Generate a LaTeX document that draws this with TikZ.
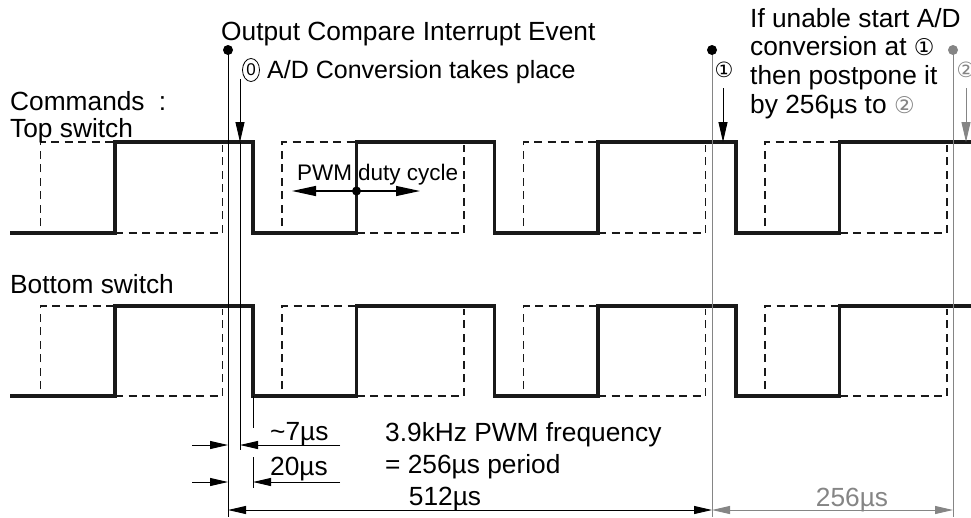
\documentclass[tikz,border=0pt]{standalone}
\usepackage{fontspec}
\setmainfont{Liberation Sans}
\newfontfamily\symfont{DejaVu Sans}
\usetikzlibrary{arrows.meta,shapes.geometric}
\definecolor{lgray}{HTML}{858585}
\begin{document}
\begin{tikzpicture}[x=1pt,y=-1pt,
  wave/.style={line width=3.2pt, line join=miter, black!90},
  cmdline/.style={line width=1.6pt, dash pattern=on 8pt off 5.5pt, black!90},
  thinline/.style={line width=0.9pt},
  lbl/.style={font=\fontsize{26.3}{28}\selectfont, inner sep=0pt},
  circ/.style={font=\symfont\fontsize{21}{22}\selectfont, inner sep=0pt},
  dimtip/.style={-{Triangle[length=18pt,width=8pt]}},
  bigtip/.style={-{Triangle[length=20pt,width=9pt]}},
  pwmtip/.style={-{Triangle[length=24pt,width=10pt]}}
]
\useasboundingbox (0,0) rectangle (971,517);

% waveforms
\foreach \hi/\lo in {142/233, 306/396}{
  \draw[wave] (10,\lo) -- (115,\lo) -- (115,\hi) -- (253,\hi) -- (253,\lo)
    -- (356.5,\lo) -- (356.5,\hi) -- (494.5,\hi) -- (494.5,\lo)
    -- (598,\lo) -- (598,\hi) -- (736,\hi) -- (736,\lo)
    -- (839.5,\lo) -- (839.5,\hi) -- (971,\hi);
  \foreach \L/\R/\U in {40.5/222.5/115, 282/464/356.5, 523.5/705.5/598, 765/947/839.5}{
    \draw[cmdline] (\L,\lo-7) -- (\L,\hi) -- (\U,\hi);
    \draw[cmdline] (\U,\lo) -- (\R,\lo) -- (\R,\hi+3);
  }
}

% left labels
\node[lbl, anchor=base west] (cmds) at (10,110) {Commands\hspace{7pt} :};
\node[lbl, anchor=base west] (tops) at (10,137) {Top switch};
\node[lbl, anchor=base west] (bots) at (10,293) {Bottom switch};

% event line 0
\coordinate (e0) at (228,50);
\coordinate (e0b) at (228,517);
\draw[thinline] (e0) -- (e0b);
\fill (e0) circle (5);
\node[lbl, anchor=base west] (oc) at (221,40) {Output Compare Interrupt Event};
\node[draw, ellipse, line width=0.8pt, minimum width=17pt, minimum height=23pt,
      inner sep=0pt, font=\fontsize{17}{17}\selectfont] (c0) at (251,70) {0};
\node[lbl, font=\fontsize{25}{28}\selectfont, anchor=base west] (adc) at (267,78) {A/D Conversion takes place};
\coordinate (a0s) at (240,79);
\coordinate (a0e) at (240,142);
\coordinate (a0b) at (240,450);
\draw[thinline, bigtip] (a0s) -- (a0e);
\draw[thinline] (a0e) -- (a0b);

% fall edge extension
\coordinate (f1) at (253,396);
\coordinate (f2) at (253,428);
\coordinate (f3) at (253,457);
\coordinate (f4) at (253,488);
\draw[thinline] (f1) -- (f2);
\draw[thinline] (f3) -- (f4);

% PWM duty cycle
\node[lbl, font=\fontsize{22.5}{24}\selectfont, anchor=base west] (pwm) at (297,180) {PWM\hspace{6pt}duty cycle};
\coordinate (pd) at (356.5,191);
\coordinate (pl) at (292,191);
\coordinate (pr) at (420,191);
\draw[line width=1.3pt, pwmtip] (pd) -- (pl);
\draw[line width=1.3pt, pwmtip] (pd) -- (pr);
\fill (pd) circle (4.5);

% event line 1
\coordinate (e1) at (712,50);
\coordinate (e1b) at (712,517);
\draw[thinline, lgray] (e1) -- (e1b);
\fill (e1) circle (5);
\node[circ] (c1) at (724,70) {①};
\coordinate (a1s) at (723,88);
\coordinate (a1e) at (723,142);
\draw[thinline, bigtip] (a1s) -- (a1e);

% event line 2 (grey)
\coordinate (e2) at (953,50);
\coordinate (e2b) at (953,517);
\draw[thinline, lgray] (e2) -- (e2b);
\fill[lgray] (e2) circle (5);
\node[circ, lgray] (c2) at (966,70) {②};
\coordinate (a2s) at (966,88);
\coordinate (a2e) at (966,142);
\draw[thinline, lgray, bigtip] (a2s) -- (a2e);

% right text block
\node[lbl, anchor=base west] (r1) at (750,27) {If unable start A/D};
\node[lbl, anchor=base west] (r2) at (750,55) {conversion at {\symfont\fontsize{23}{24}\selectfont ①}};
\node[lbl, anchor=base west] (r3) at (750,84) {then postpone it};
\node[lbl, anchor=base west] (r4) at (750,113) {by 256µs to {\symfont\fontsize{23}{24}\selectfont\color{lgray}②}};

% small dimensions
\coordinate (d7l) at (192,445);
\coordinate (d7a) at (228,445);
\coordinate (d7b) at (240,445);
\coordinate (d7r) at (340,445);
\draw[thinline, dimtip] (d7l) -- (d7a);
\draw[thinline, dimtip] (d7r) -- (d7b);
\node[lbl, anchor=base west] (t7) at (270,440) {\string~7µs};

\coordinate (d20l) at (192,482);
\coordinate (d20a) at (228,482);
\coordinate (d20b) at (253,482);
\coordinate (d20r) at (340,482);
\draw[thinline, dimtip] (d20l) -- (d20a);
\draw[thinline, dimtip] (d20r) -- (d20b);
\node[lbl, anchor=base west] (t20) at (270,475) {20µs};

% frequency text
\node[lbl, anchor=base west] (fq) at (385,441) {3.9kHz PWM frequency};
\node[lbl, anchor=base west] (pr2) at (385,473) {= 256µs period};

% long dimensions
\coordinate (l0) at (228,510);
\coordinate (l1) at (712,510);
\coordinate (l2) at (953,510);
\draw[thinline, {Triangle[length=18pt,width=8pt]}-{Triangle[length=18pt,width=8pt]}] (l0) -- (l1);
\draw[thinline, lgray, {Triangle[length=18pt,width=8pt]}-{Triangle[length=18pt,width=8pt]}] (l1) -- (l2);
\node[lbl, anchor=base] (t512) at (445,505) {512µs};
\node[lbl, anchor=base, lgray] (t256) at (852,506) {256µs};
\end{tikzpicture}
\end{document}
